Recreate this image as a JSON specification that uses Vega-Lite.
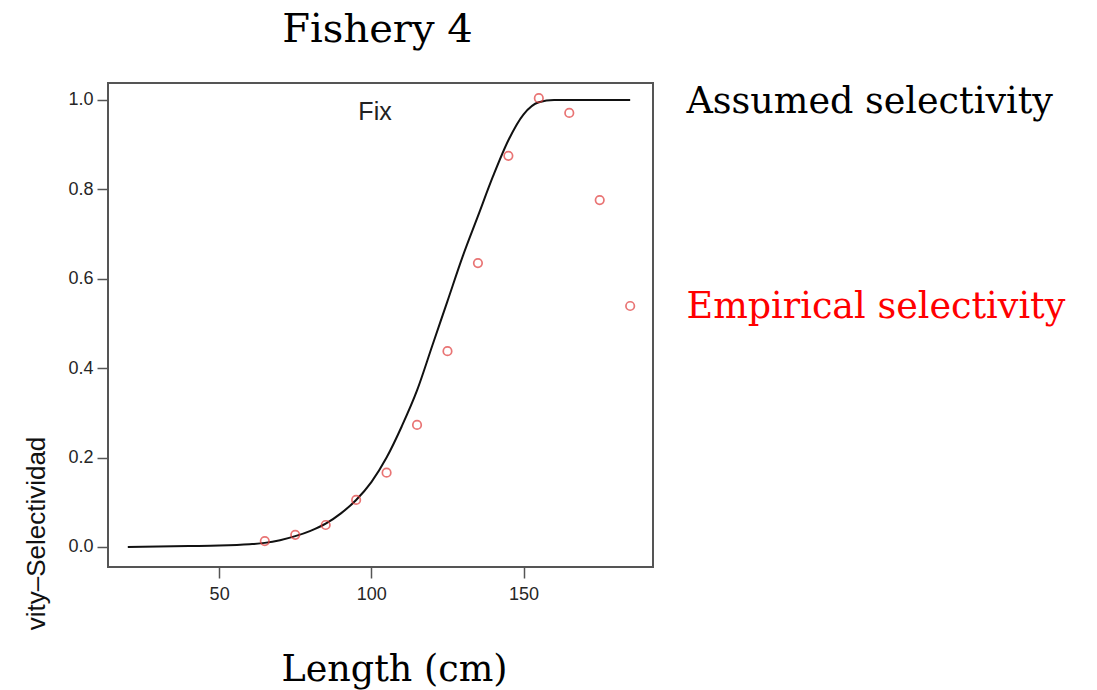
{
  "$schema": "https://vega.github.io/schema/vega-lite/v6.json",
  "autosize": {"type": "none"},
  "width": 545,
  "height": 484,
  "padding": {"left": 108, "top": 83, "right": 444, "bottom": 123},
  "background": "white",
  "title": {
    "text": "Fishery 4",
    "font": "DejaVu Serif",
    "fontSize": 40,
    "fontWeight": "normal",
    "color": "#000000",
    "anchor": "middle",
    "frame": "group",
    "baseline": "alphabetic",
    "offset": 1,
    "dx": -3
  },
  "config": {
    "view": {"stroke": "#555555", "strokeWidth": 2},
    "axis": {
      "grid": false,
      "domain": false,
      "tickColor": "#555555",
      "tickWidth": 1.5,
      "tickSize": 11,
      "labelFont": "Liberation Sans",
      "labelFontSize": 18,
      "labelColor": "#262626",
      "titleFontWeight": "normal"
    }
  },
  "layer": [
    {
      "data": {
        "values": [
          {"length": 20, "selectivity": 0.0, "series": "Assumed selectivity"},
          {"length": 30, "selectivity": 0.001, "series": "Assumed selectivity"},
          {"length": 40, "selectivity": 0.002, "series": "Assumed selectivity"},
          {"length": 50, "selectivity": 0.003, "series": "Assumed selectivity"},
          {"length": 60, "selectivity": 0.006, "series": "Assumed selectivity"},
          {"length": 65, "selectivity": 0.009, "series": "Assumed selectivity"},
          {"length": 70, "selectivity": 0.015, "series": "Assumed selectivity"},
          {"length": 75, "selectivity": 0.024, "series": "Assumed selectivity"},
          {"length": 80, "selectivity": 0.036, "series": "Assumed selectivity"},
          {"length": 85, "selectivity": 0.052, "series": "Assumed selectivity"},
          {"length": 90, "selectivity": 0.075, "series": "Assumed selectivity"},
          {"length": 95, "selectivity": 0.105, "series": "Assumed selectivity"},
          {"length": 100, "selectivity": 0.145, "series": "Assumed selectivity"},
          {"length": 105, "selectivity": 0.2, "series": "Assumed selectivity"},
          {"length": 110, "selectivity": 0.27, "series": "Assumed selectivity"},
          {"length": 115, "selectivity": 0.35, "series": "Assumed selectivity"},
          {"length": 120, "selectivity": 0.45, "series": "Assumed selectivity"},
          {"length": 125, "selectivity": 0.55, "series": "Assumed selectivity"},
          {"length": 130, "selectivity": 0.65, "series": "Assumed selectivity"},
          {"length": 135, "selectivity": 0.74, "series": "Assumed selectivity"},
          {"length": 140, "selectivity": 0.83, "series": "Assumed selectivity"},
          {"length": 145, "selectivity": 0.91, "series": "Assumed selectivity"},
          {"length": 150, "selectivity": 0.968, "series": "Assumed selectivity"},
          {"length": 155, "selectivity": 0.995, "series": "Assumed selectivity"},
          {"length": 160, "selectivity": 1.0, "series": "Assumed selectivity"},
          {"length": 165, "selectivity": 1.0, "series": "Assumed selectivity"},
          {"length": 170, "selectivity": 1.0, "series": "Assumed selectivity"},
          {"length": 175, "selectivity": 1.0, "series": "Assumed selectivity"},
          {"length": 180, "selectivity": 1.0, "series": "Assumed selectivity"},
          {"length": 185, "selectivity": 1.0, "series": "Assumed selectivity"}
        ]
      },
      "mark": {"type": "line", "strokeWidth": 2, "interpolate": "monotone"},
      "encoding": {
        "x": {
          "field": "length",
          "type": "quantitative",
          "scale": {"domain": [13.5, 192.5], "nice": false, "zero": false},
          "axis": {
            "values": [50, 100, 150],
            "labelPadding": 7,
            "title": "Length (cm)",
            "titleFont": "DejaVu Serif",
            "titleFontSize": 36.5,
            "titleColor": "#000000",
            "titleX": 286,
            "titleY": 113,
            "titleAlign": "center",
            "titleBaseline": "alphabetic"
          }
        },
        "y": {
          "field": "selectivity",
          "type": "quantitative",
          "scale": {"domain": [-0.045, 1.038], "nice": false, "zero": false},
          "axis": {
            "values": [0, 0.2, 0.4, 0.6, 0.8, 1.0],
            "format": ".1f",
            "labelPadding": 4,
            "title": "vity–Selectividad",
            "titleFont": "Liberation Sans",
            "titleFontSize": 26,
            "titleColor": "#111111",
            "titleAngle": -90,
            "titleX": -72,
            "titleY": 450,
            "titleAlign": "center",
            "titleBaseline": "middle"
          }
        },
        "color": {
          "field": "series",
          "type": "nominal",
          "scale": {
            "domain": ["Assumed selectivity", "Empirical selectivity"],
            "range": ["#111111", "#e03a3a"]
          },
          "legend": {
            "orient": "none",
            "legendX": 542,
            "legendY": 12,
            "title": null,
            "padding": 0,
            "symbolSize": 0,
            "symbolOpacity": 0,
            "symbolStrokeWidth": 0,
            "labelOffset": 0,
            "labelFont": "DejaVu Serif",
            "labelFontSize": 36.5,
            "labelLimit": 0,
            "rowPadding": 168,
            "labelBaseline": "alphabetic",
            "encode": {
              "labels": {
                "update": {
                  "fill": {"signal": "datum.value === 'Empirical selectivity' ? '#ff0000' : '#000000'"}
                }
              }
            }
          }
        }
      }
    },
    {
      "data": {
        "values": [
          {"length": 65, "selectivity": 0.013, "series": "Empirical selectivity"},
          {"length": 75, "selectivity": 0.027, "series": "Empirical selectivity"},
          {"length": 85, "selectivity": 0.049, "series": "Empirical selectivity"},
          {"length": 95, "selectivity": 0.105, "series": "Empirical selectivity"},
          {"length": 105, "selectivity": 0.166, "series": "Empirical selectivity"},
          {"length": 115, "selectivity": 0.273, "series": "Empirical selectivity"},
          {"length": 125, "selectivity": 0.438, "series": "Empirical selectivity"},
          {"length": 135, "selectivity": 0.635, "series": "Empirical selectivity"},
          {"length": 145, "selectivity": 0.875, "series": "Empirical selectivity"},
          {"length": 155, "selectivity": 1.004, "series": "Empirical selectivity"},
          {"length": 165, "selectivity": 0.971, "series": "Empirical selectivity"},
          {"length": 175, "selectivity": 0.776, "series": "Empirical selectivity"},
          {"length": 185, "selectivity": 0.539, "series": "Empirical selectivity"}
        ]
      },
      "mark": {"type": "point", "shape": "circle", "filled": false, "size": 72, "strokeWidth": 1.7},
      "encoding": {
        "x": {"field": "length", "type": "quantitative"},
        "y": {"field": "selectivity", "type": "quantitative"},
        "color": {"field": "series", "type": "nominal"}
      }
    },
    {
      "data": {"values": [{"label": "Fix"}]},
      "mark": {
        "type": "text",
        "font": "Liberation Sans",
        "fontSize": 25,
        "fill": "#222222",
        "align": "center",
        "baseline": "middle"
      },
      "encoding": {
        "x": {"datum": 101.2, "type": "quantitative"},
        "y": {"datum": 0.974, "type": "quantitative"},
        "text": {"field": "label", "type": "nominal"}
      }
    }
  ]
}
